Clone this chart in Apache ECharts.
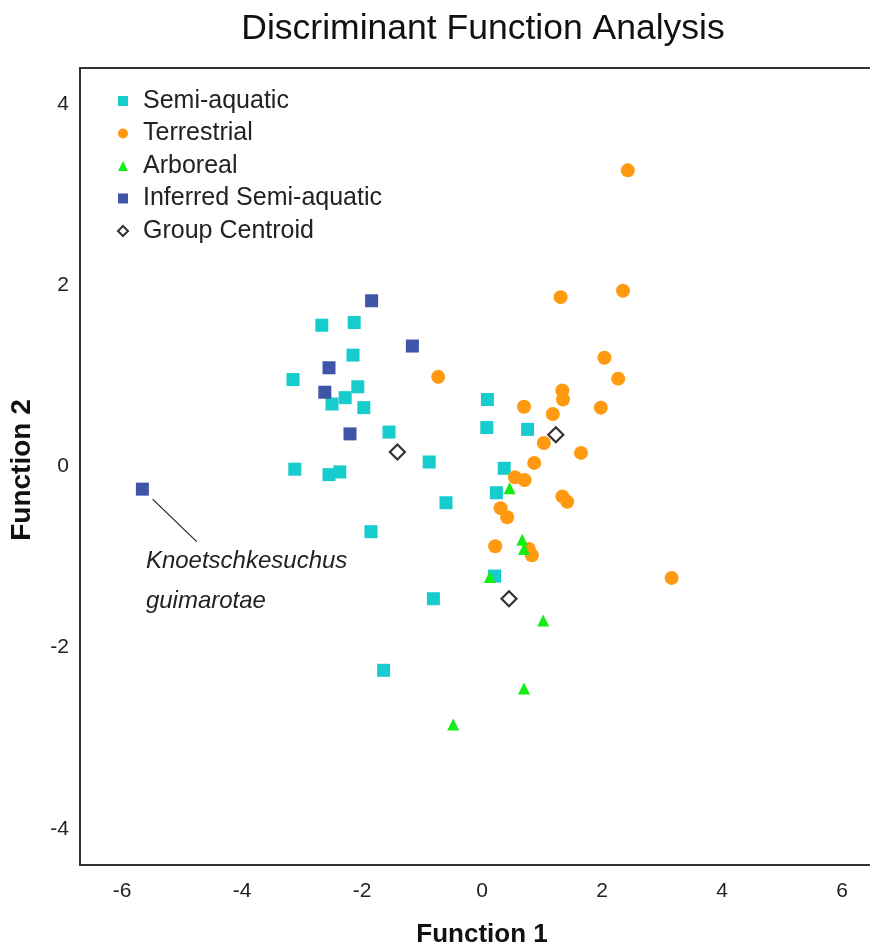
<!DOCTYPE html>
<html>
<head>
<meta charset="utf-8">
<script src="https://cdn.jsdelivr.net/npm/echarts@6/dist/echarts.min.js"></script>
<style>html,body{margin:0;padding:0;background:#fff}#chart{width:870px;height:946px}</style>
</head>
<body>
<div id="chart"></div>
<script>
const titleText = 'Discriminant Function Analysis';
const xName = 'Function 1';
const yName = 'Function 2';
const xTicks = [-6, -4, -2, 0, 2, 4, 6];
const yTicks = [-4, -2, 0, 2, 4];

const semiAquatic = [
  [-2.67, 1.56], [-2.13, 1.59], [-2.15, 1.23], [-3.15, 0.96], [-2.07, 0.88],
  [-2.28, 0.76], [-2.50, 0.69], [-1.97, 0.65], [-1.55, 0.38], [-3.12, -0.03],
  [-2.55, -0.09], [-2.37, -0.06], [-1.85, -0.72], [-0.88, 0.05], [-0.60, -0.40],
  [-1.64, -2.25], [-0.81, -1.46], [0.09, 0.74], [0.08, 0.43], [0.76, 0.41],
  [0.37, -0.02], [0.24, -0.29], [0.21, -1.21]
];
const terrestrial = [
  [2.43, 3.27], [1.31, 1.87], [2.35, 1.94], [2.04, 1.20], [2.27, 0.97],
  [-0.73, 0.99], [1.34, 0.84], [1.35, 0.74], [0.70, 0.66], [1.98, 0.65],
  [1.18, 0.58], [1.03, 0.26], [1.65, 0.15], [0.87, 0.04], [0.55, -0.12],
  [0.71, -0.15], [1.34, -0.33], [1.42, -0.39], [0.31, -0.46], [0.42, -0.56],
  [0.22, -0.88], [0.78, -0.91], [0.83, -0.98], [3.16, -1.23]
];
const arboreal = [
  [0.46, -0.24], [0.67, -0.81], [0.70, -0.91], [0.13, -1.22],
  [1.02, -1.70], [0.70, -2.45], [-0.48, -2.85]
];
const inferredSemiAquatic = [
  [-1.84, 1.83], [-2.55, 1.09], [-2.62, 0.82], [-2.20, 0.36], [-1.16, 1.33], [-5.66, -0.25]
];
const groupCentroid = [
  [-1.41, 0.16], [1.23, 0.35], [0.45, -1.46]
];
const annotationName = 'Knoetschkesuchus\nguimarotae';
const annotationLeader = [[-5.49, -0.36], [-4.755, -0.83]];

const baseFont = "'Liberation Sans', Arial, sans-serif";

const chart = echarts.init(document.getElementById('chart'), null, {renderer: 'canvas'});

const inferredData = inferredSemiAquatic.map((p, i) => {
  if (i === inferredSemiAquatic.length - 1) {
    return {
      value: p,
      label: {
        show: true,
        formatter: annotationName,
        position: [10, 59],
        align: 'left',
        verticalAlign: 'top',
        fontFamily: baseFont,
        fontStyle: 'italic',
        fontSize: 24,
        lineHeight: 40,
        color: '#222'
      }
    };
  }
  return p;
});

chart.setOption({
  animation: false,
  backgroundColor: '#fff',
  title: {
    text: titleText,
    left: 478,
    textAlign: 'center',
    top: 6,
    textStyle: {fontFamily: baseFont, fontSize: 35.5, fontWeight: 'normal', color: '#111'}
  },
  legend: {
    orient: 'vertical',
    left: 112,
    top: 82,
    itemWidth: 10,
    itemHeight: 10,
    itemGap: 4.5,
    textStyle: {fontFamily: baseFont, fontSize: 25, lineHeight: 28, color: '#222', padding: [0, 0, 0, 10]},
    data: ['Semi-aquatic', 'Terrestrial', 'Arboreal', 'Inferred Semi-aquatic', 'Group Centroid']
  },
  grid: {
    left: 80, right: -14, top: 68, bottom: 81,
    outerBoundsMode: 'none', containLabel: false,
    show: true, borderColor: '#333', borderWidth: 2, backgroundColor: 'transparent'
  },
  xAxis: {
    type: 'value', min: -6.7, max: 6.7,
    name: xName, nameLocation: 'middle', nameGap: 57,
    nameTextStyle: {fontFamily: baseFont, fontSize: 26, fontWeight: 'bold', color: '#111'},
    axisLine: {show: false}, axisTick: {show: false}, splitLine: {show: false},
    axisLabel: {customValues: xTicks, margin: 16, fontFamily: baseFont, fontSize: 21, color: '#222'}
  },
  yAxis: {
    type: 'value', min: -4.4, max: 4.4,
    name: yName, nameLocation: 'middle', nameGap: 44, nameRotate: 90,
    nameTextStyle: {fontFamily: baseFont, fontSize: 28, fontWeight: 'bold', color: '#111', padding: [0, 7, 0, 0]},
    axisLine: {show: false}, axisTick: {show: false}, splitLine: {show: false},
    axisLabel: {customValues: yTicks, margin: 11, fontFamily: baseFont, fontSize: 21, color: '#222'}
  },
  series: [
    {
      name: 'Semi-aquatic', type: 'scatter', symbol: 'rect', symbolSize: 13,
      itemStyle: {color: '#17cccc', opacity: 1}, data: semiAquatic, z: 2
    },
    {
      name: 'Terrestrial', type: 'scatter', symbol: 'circle', symbolSize: 14,
      itemStyle: {color: '#ff990f', opacity: 1}, data: terrestrial, z: 2
    },
    {
      name: 'Arboreal', type: 'scatter', symbol: 'triangle', symbolSize: 12,
      itemStyle: {color: '#14ee14', opacity: 1}, data: arboreal, z: 3
    },
    {
      name: 'Inferred Semi-aquatic', type: 'scatter', symbol: 'rect', symbolSize: 13,
      itemStyle: {color: '#3f55a8', opacity: 1}, data: inferredData, z: 3,
      markLine: {
        silent: true, symbol: 'none', animation: false,
        lineStyle: {color: '#222', width: 1.2, type: 'solid'},
        label: {show: false},
        data: [[{coord: annotationLeader[0]}, {coord: annotationLeader[1]}]]
      }
    },
    {
      name: 'Group Centroid', type: 'scatter', symbol: 'diamond', symbolSize: 15,
      itemStyle: {color: '#fff', borderColor: '#333', borderWidth: 2.2, opacity: 1}, data: groupCentroid, z: 4
    }
  ]
});
</script>
</body>
</html>
